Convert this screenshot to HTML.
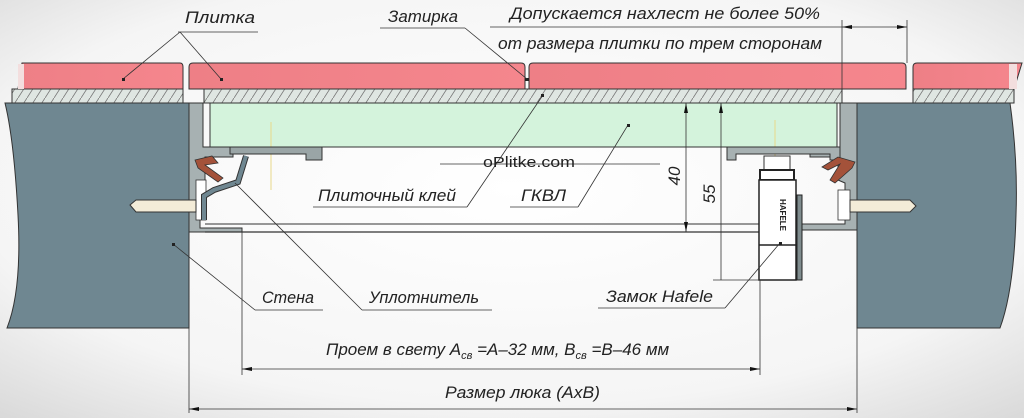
<!DOCTYPE html>
<html><head><meta charset="utf-8"><style>
html,body{margin:0;padding:0;width:1024px;height:418px;overflow:hidden}
svg{display:block}
text{font-family:"Liberation Sans","DejaVu Sans",sans-serif;font-style:italic;fill:#222}
</style></head><body>
<svg width="1024" height="418" viewBox="0 0 1024 418" xmlns="http://www.w3.org/2000/svg">
<defs>
<radialGradient id="bg" cx="0.5" cy="0.45" r="0.8">
<stop offset="0" stop-color="#ffffff"/><stop offset="0.65" stop-color="#f5f5f5"/><stop offset="1" stop-color="#d2d2d2"/></radialGradient>
<pattern id="hatch" width="9" height="14" patternUnits="userSpaceOnUse">
<rect width="9" height="14" fill="#dfe6e2"/><line x1="0" y1="14" x2="9" y2="0" stroke="#777" stroke-width="0.8"/></pattern>
<linearGradient id="tile" x1="0" x2="1"><stop offset="0" stop-color="#ee7f86"/><stop offset="1" stop-color="#f5868d"/></linearGradient>
<marker id="ar" viewBox="0 0 10 4" refX="10" refY="2" markerWidth="10" markerHeight="4" orient="auto-start-reverse" markerUnits="userSpaceOnUse"><path d="M0,0L10,2L0,4z" fill="#111"/></marker>
</defs>
<rect width="1024" height="418" fill="url(#bg)"/>

<path d="M5,103 L189,103 L189,328 L7,328 Q22,290 18,215 Q14,140 5,103z" fill="#6f8791" stroke="#333" stroke-width="1"/>
<path d="M857,103 L1010,103 Q1018,160 1016,215 Q1014,290 1000,328 L857,328z" fill="#6f8791" stroke="#333" stroke-width="1"/>

<rect x="12" y="89" width="171" height="14" fill="url(#hatch)" stroke="#333" stroke-width="1"/>
<rect x="204" y="89" width="638" height="14" fill="url(#hatch)" stroke="#333" stroke-width="1"/>
<rect x="913" y="89" width="101" height="14" fill="url(#hatch)" stroke="#333" stroke-width="1"/>

<path d="M18,89 L22,63 L180,63 Q183,63 183,67 L183,89z" fill="url(#tile)" stroke="#333"/>
<rect x="18" y="64" width="6" height="25" fill="#f3dede"/>
<path d="M189,89 L189,67 Q189,63 193,63 L521,63 Q525,63 525,67 L525,89z" fill="url(#tile)" stroke="#333"/>
<path d="M529,89 L529,67 Q529,63 533,63 L902,63 Q906,63 906,67 L906,89z" fill="url(#tile)" stroke="#333"/>
<path d="M913,89 L913,67 Q913,63 917,63 L1022,63 L1014,89z" fill="url(#tile)" stroke="#333"/>
<rect x="1009" y="64" width="8" height="25" fill="#f3dede"/>
<rect x="525" y="78" width="4" height="3" fill="#222"/>

<path d="M189,103 L203,103 L203,147 L233,147 L233,157 L205,157 L205,180 L200,183 L200,228 L242,228 L242,232 L189,232z" fill="#a7b1b2" stroke="#333" stroke-width="1"/>
<path d="M857,103 L840,103 L840,147 L810,147 L810,157 L838,157 L838,180 L845,183 L845,224 L800,224 L800,230 L857,230z" fill="#a7b1b2" stroke="#333" stroke-width="1"/>
<rect x="196" y="180" width="10" height="40" fill="#fff" stroke="#333" stroke-width="0.8"/>
<rect x="838" y="190" width="12" height="30" fill="#fff" stroke="#333" stroke-width="0.8"/>

<rect x="210" y="103" width="627" height="44" fill="#d4f3dc" stroke="#333" stroke-width="1"/>
<line x1="271" y1="122" x2="271" y2="190" stroke="#e8d88a" stroke-width="1"/>
<line x1="775" y1="120" x2="775" y2="190" stroke="#e8d88a" stroke-width="1"/>
<path d="M230,147 L322,147 L322,160 L306,160 L306,154 L230,154z" fill="#9aa5a6" stroke="#333" stroke-width="1"/>
<path d="M727,147 L840,147 L840,160 L830,160 L830,154 L736,154 L736,160 L727,160z" fill="#a7b1b2" stroke="#333" stroke-width="1"/>

<path d="M246,156 L238,182 L214,190 L204,196 L204,220" fill="none" stroke="#333" stroke-width="6"/>
<path d="M246,156 L238,182 L214,190 L204,196 L204,220" fill="none" stroke="#6f8791" stroke-width="4"/>
<path d="M195,160 L212,156 L218,163 L205,165 L223,178 L218,182 L198,168z" fill="#a4523a" stroke="#333" stroke-width="0.8"/>
<path d="M855,162 L838,157 L822,167 L828,170 L840,164 L830,180 L835,183 L852,168z" fill="#a4523a" stroke="#333" stroke-width="0.8"/>
<path d="M130,205 L136,200 L196,200 L196,212 L136,212z" fill="#f3ecd8" stroke="#333" stroke-width="1"/>
<path d="M850,200 L910,200 L916,206 L910,212 L850,212z" fill="#f3ecd8" stroke="#333" stroke-width="1"/>

<line x1="205" y1="224" x2="800" y2="224" stroke="#333" stroke-width="1"/>
<line x1="205" y1="232" x2="760" y2="232" stroke="#333" stroke-width="1.2"/>

<rect x="764" y="156" width="26" height="14" fill="#fff" stroke="#333"/>
<rect x="760" y="170" width="34" height="10" fill="#fff" stroke="#222" stroke-width="2"/>
<rect x="759" y="180" width="37" height="100" fill="#fff" stroke="#222" stroke-width="1.5"/>
<rect x="797" y="195" width="5" height="85" fill="#7f8c8e" stroke="#222"/>
<line x1="759" y1="245" x2="796" y2="245" stroke="#222" stroke-width="1.5"/>
<text x="0" y="0" transform="translate(780,215) rotate(90)" font-size="8" font-weight="bold" style="font-style:normal" text-anchor="middle">HAFELE</text>

<g stroke="#333" stroke-width="0.8" fill="none">
<line x1="189" y1="232" x2="189" y2="413"/>
<line x1="857" y1="328" x2="857" y2="413"/>
<line x1="189" y1="409" x2="857" y2="409" marker-start="url(#ar)" marker-end="url(#ar)"/>
<line x1="242" y1="232" x2="242" y2="375"/>
<line x1="760" y1="280" x2="760" y2="375"/>
<line x1="242" y1="369" x2="760" y2="369" marker-start="url(#ar)" marker-end="url(#ar)"/>
<line x1="842" y1="20" x2="842" y2="89"/>
<line x1="907" y1="20" x2="907" y2="63"/>
<line x1="842" y1="27" x2="907" y2="27" marker-start="url(#ar)" marker-end="url(#ar)"/>
<line x1="490" y1="27" x2="842" y2="27"/>
<line x1="686" y1="103" x2="686" y2="232" marker-start="url(#ar)" marker-end="url(#ar)"/>
<line x1="721" y1="103" x2="721" y2="280" marker-start="url(#ar)"/>
<line x1="713" y1="280" x2="760" y2="280"/>
<line x1="440" y1="164" x2="660" y2="164"/>
<line x1="178" y1="32" x2="258" y2="32"/>
<line x1="180" y1="32" x2="123" y2="79"/><line x1="180" y1="32" x2="221" y2="79"/>
<line x1="380" y1="28" x2="465" y2="28"/>
<line x1="465" y1="28" x2="527" y2="79"/>
<line x1="313" y1="207" x2="467" y2="207"/>
<line x1="467" y1="207" x2="543" y2="95"/>
<line x1="510" y1="207" x2="578" y2="207"/>
<line x1="578" y1="207" x2="628" y2="125"/>
<line x1="255" y1="310" x2="323" y2="310"/>
<line x1="255" y1="310" x2="173" y2="244"/>
<line x1="362" y1="310" x2="492" y2="310"/>
<line x1="362" y1="310" x2="235" y2="183"/>
<line x1="598" y1="308" x2="725" y2="308"/>
<line x1="725" y1="308" x2="780" y2="243"/>
</g>
<g fill="#222">
<rect x="122" y="78" width="3" height="3"/><rect x="220" y="78" width="3" height="3"/>
<rect x="172" y="243" width="3" height="3"/><rect x="627" y="124" width="3" height="3"/>
<rect x="541" y="94" width="3" height="3"/><rect x="779" y="242" width="3" height="3"/>
</g>

<g font-size="17">
<text x="185" y="23" textLength="70" lengthAdjust="spacingAndGlyphs">Плитка</text>
<text x="388" y="22" textLength="70" lengthAdjust="spacingAndGlyphs">Затирка</text>
<text x="510" y="19" textLength="310" lengthAdjust="spacingAndGlyphs">Допускается нахлест не более 50%</text>
<text x="498" y="49" textLength="324" lengthAdjust="spacingAndGlyphs">от размера плитки по трем сторонам</text>
<text x="318" y="201" textLength="138" lengthAdjust="spacingAndGlyphs">Плиточный клей</text>
<text x="521" y="201" textLength="45" lengthAdjust="spacingAndGlyphs">ГКВЛ</text>
<text x="262" y="303" textLength="52" lengthAdjust="spacingAndGlyphs">Стена</text>
<text x="369" y="303" textLength="110" lengthAdjust="spacingAndGlyphs">Уплотнитель</text>
<text x="606" y="302" textLength="107" lengthAdjust="spacingAndGlyphs">Замок Hafele</text>
<text x="326" y="355">Проем в свету A<tspan font-size="11" dy="4">св</tspan><tspan dy="-4"> =A–32 мм, B</tspan><tspan font-size="11" dy="4">св</tspan><tspan dy="-4"> =B–46 мм</tspan></text>
<text x="445" y="398" textLength="155" lengthAdjust="spacingAndGlyphs">Размер люка (AxB)</text>
<text transform="translate(680,176) rotate(-90)" text-anchor="middle">40</text>
<text transform="translate(715,194) rotate(-90)" text-anchor="middle">55</text>
</g>
<text x="483" y="167" font-size="15" style="font-style:normal" fill="#111" textLength="92" lengthAdjust="spacingAndGlyphs">oPlitke.com</text>
</svg>
</body></html>
